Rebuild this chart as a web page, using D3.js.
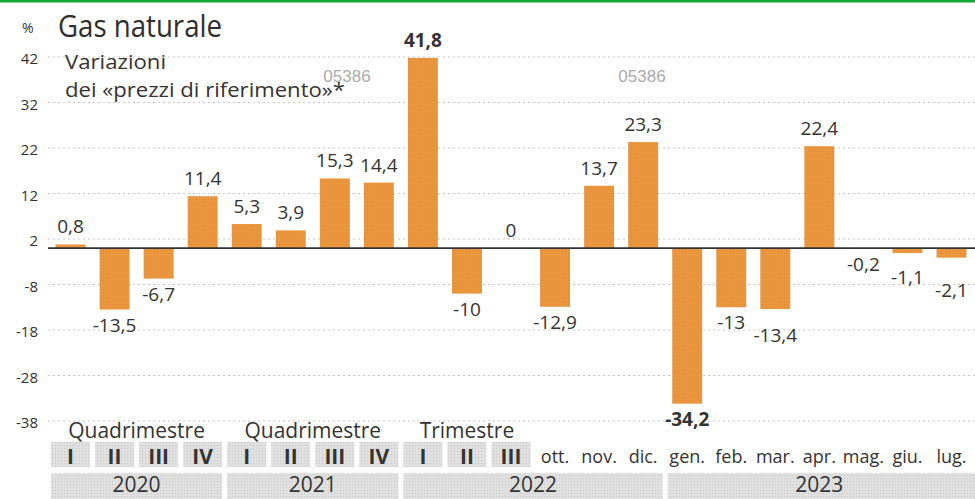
<!DOCTYPE html>
<html>
<head>
<meta charset="utf-8">
<script src="https://cdn.jsdelivr.net/npm/d3@7"></script>
<style>
  body { margin: 0; background: #fff; }
  svg { display: block; font-family: "Open Sans", "Noto Sans", sans-serif; }
</style>
</head>
<body>
<svg id="chart" width="975" height="499"></svg>
<script>
// valori (variazioni %)
var values = [0.8, -13.5, -6.7, 11.4, 5.3, 3.9, 15.3, 14.4, 41.8, -10, 0, -12.9, 13.7, 23.3, -34.2, -13, -13.4, 22.4, -0.2, -1.1, -2.1];
var periods = ["I", "II", "III", "IV", "I", "II", "III", "IV", "I", "II", "III",
               "ott.", "nov.", "dic.", "gen.", "feb.", "mar.", "apr.", "mag.", "giu.", "lug."];
var boxed = [true, true, true, true, true, true, true, true, true, true, true,
             false, false, false, false, false, false, false, false, false, false];
var periodGroups = ["Quadrimestre", "Quadrimestre", "Trimestre"];
var periodGroupBars = [[0, 3], [4, 7], [8, 10]];
var years = ["2020", "2021", "2022", "2023"];
var yearBars = [[0, 3], [4, 7], [8, 13], [14, 20]];
var yTicks = [42, 32, 22, 12, 2, -8, -18, -28, -38];

var svg = d3.select("#chart");
var W = 975;

var x = d3.scaleBand()
    .domain(d3.range(values.length))
    .range([48.5, 973.5])
    .paddingInner(0.32)
    .paddingOuter(0.16);

var y = d3.scaleLinear()
    .domain([-38, 42])
    .range([421, 57]);

var step = x.step();
function bandStart(i) { return 48.5 + i * step; }

// halftone-ish textures
var defs = svg.append("defs");
var pOrange = defs.append("pattern")
    .attr("id", "orange").attr("width", 3).attr("height", 3)
    .attr("patternUnits", "userSpaceOnUse");
pOrange.append("rect").attr("width", 3).attr("height", 3).attr("fill", "#e9963f");
pOrange.append("rect").attr("x", 1).attr("y", 1).attr("width", 1).attr("height", 1).attr("fill", "#df8c37");

var pGray = defs.append("pattern")
    .attr("id", "gray").attr("width", 3).attr("height", 3)
    .attr("patternUnits", "userSpaceOnUse");
pGray.append("rect").attr("width", 3).attr("height", 3).attr("fill", "#e0e0e0");
pGray.append("rect").attr("x", 1).attr("y", 1).attr("width", 1).attr("height", 1).attr("fill", "#c6c6c6");

// green rule at top
svg.append("rect").attr("x", 0).attr("y", 0).attr("width", W).attr("height", 2.5).attr("fill", "#17a83a");

// title block
svg.append("text").attr("x", 22).attr("y", 33)
    .attr("font-size", 14).attr("fill", "#333").text("%");
svg.append("text").attr("x", 58).attr("y", 37)
    .attr("font-size", 31).attr("fill", "#2e2e2e")
    .attr("textLength", 164).attr("lengthAdjust", "spacingAndGlyphs")
    .text("Gas naturale");
svg.append("text").attr("x", 65).attr("y", 69)
    .attr("font-size", 20).attr("fill", "#333")
    .attr("textLength", 101).attr("lengthAdjust", "spacingAndGlyphs")
    .text("Variazioni");
svg.append("text").attr("x", 65).attr("y", 97)
    .attr("font-size", 20).attr("fill", "#333")
    .attr("textLength", 280).attr("lengthAdjust", "spacingAndGlyphs")
    .text("dei «prezzi di riferimento»*");

// gridlines
svg.append("g").selectAll("line")
    .data(yTicks)
    .join("line")
      .attr("x1", 48).attr("x2", W)
      .attr("y1", function(d) { return y(d); })
      .attr("y2", function(d) { return y(d); })
      .attr("stroke", "#c8c8c8")
      .attr("stroke-width", 1)
      .attr("stroke-dasharray", "2,3");

// y labels
svg.append("g").selectAll("text")
    .data(yTicks)
    .join("text")
      .attr("x", 38)
      .attr("y", function(d) { return y(d) + 2; })
      .attr("dy", "0.35em")
      .attr("text-anchor", "end")
      .attr("font-size", 15)
      .attr("fill", "#333")
      .text(function(d) { return d; });

// watermark codes
svg.append("g").selectAll("text")
    .data([347, 642])
    .join("text")
      .attr("x", function(d) { return d; })
      .attr("y", 82)
      .attr("text-anchor", "middle")
      .attr("font-family", "Liberation Sans, Arial, sans-serif")
      .attr("font-size", 17)
      .attr("fill", "#ababab")
      .text("05386");

// bars
svg.append("g").selectAll("rect")
    .data(values)
    .join("rect")
      .attr("x", function(d, i) { return x(i); })
      .attr("width", x.bandwidth())
      .attr("y", function(d) { return y(Math.max(0, d)); })
      .attr("height", function(d) { return Math.abs(y(d) - y(0)); })
      .attr("fill", "url(#orange)");

// zero line
svg.append("line")
    .attr("x1", 48).attr("x2", W)
    .attr("y1", y(0)).attr("y2", y(0))
    .attr("stroke", "#333").attr("stroke-width", 1.6);

// value labels, pushed down when two negative labels sit too close
var fmt = function(d) { return String(d).replace(".", ","); };
var maxV = d3.max(values), minV = d3.min(values);
var labels = svg.append("g").selectAll("text")
    .data(values)
    .join("text")
      .attr("text-anchor", "middle")
      .attr("font-size", 19)
      .attr("font-weight", function(d) { return (d === maxV || d === minV) ? 700 : 400; })
      .attr("fill", "#333")
      .attr("x", function(d, i) { return x(i) + x.bandwidth() / 2; })
      .attr("y", function(d) { return d >= 0 ? y(d) - 11 : y(d) + 22; })
      .text(fmt);

var prev = null;
labels.each(function(d) {
  var b = this.getBBox();
  if (prev && d < 0 && prev.d < 0 && b.x < prev.b.x + prev.b.width + 12 && Math.abs(b.y - prev.b.y) < b.height) {
    var shift = prev.b.y + 13 - b.y;
    if (shift > 0) d3.select(this).attr("y", +d3.select(this).attr("y") + shift);
    b = this.getBBox();
  }
  prev = {d: d, b: b};
});

// period group headings
svg.append("g").selectAll("text")
    .data(periodGroups)
    .join("text")
      .attr("x", function(d, i) {
        var r = periodGroupBars[i];
        return (x(r[0]) + x(r[1]) + x.bandwidth()) / 2;
      })
      .attr("y", 438)
      .attr("text-anchor", "middle")
      .attr("font-size", 21)
      .attr("fill", "#333")
      .text(function(d) { return d; });

// roman numeral boxes
svg.append("g").selectAll("rect")
    .data(d3.range(periods.length).filter(function(i) { return boxed[i]; }))
    .join("rect")
      .attr("x", function(i) { return bandStart(i) + 2.5; })
      .attr("width", step - 5)
      .attr("y", 442)
      .attr("height", 25)
      .attr("fill", "url(#gray)");

svg.append("g").selectAll("text")
    .data(periods)
    .join("text")
      .attr("x", function(d, i) { return x(i) + x.bandwidth() / 2; })
      .attr("y", function(d, i) { return boxed[i] ? 464 : 463; })
      .attr("text-anchor", "middle")
      .attr("font-size", function(d, i) { return boxed[i] ? 21 : 18; })
      .attr("font-weight", function(d, i) { return boxed[i] ? 700 : 400; })
      .attr("fill", "#333")
      .text(function(d) { return d; });

// year bands
svg.append("g").selectAll("rect")
    .data(years)
    .join("rect")
      .attr("x", function(d, i) { return bandStart(yearBars[i][0]) + 2.5; })
      .attr("width", function(d, i) {
        var end = i === years.length - 1 ? W : bandStart(yearBars[i][1] + 1) - 2.5;
        return end - (bandStart(yearBars[i][0]) + 2.5);
      })
      .attr("y", 473)
      .attr("height", 26)
      .attr("fill", "url(#gray)");

svg.append("g").selectAll("text")
    .data(years)
    .join("text")
      .attr("x", function(d, i) {
        var r = yearBars[i];
        return (bandStart(r[0]) + bandStart(r[1] + 1)) / 2;
      })
      .attr("y", 492)
      .attr("text-anchor", "middle")
      .attr("font-size", 21)
      .attr("fill", "#333")
      .text(function(d) { return d; });
</script>
</body>
</html>
